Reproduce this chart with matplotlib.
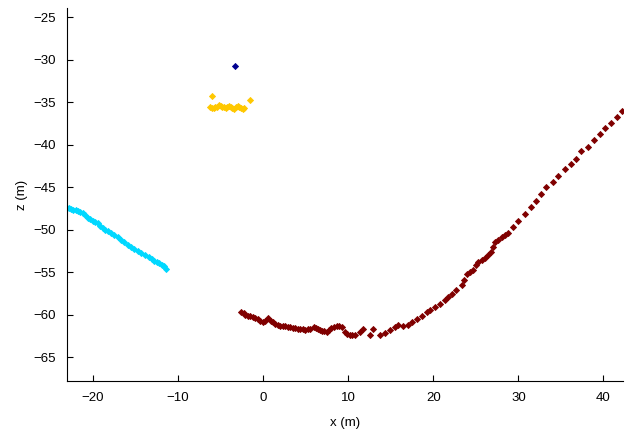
import matplotlib.pyplot as plt

plt.rcParams['font.family'] = ['Liberation Sans', 'DejaVu Sans']

# cyan group
cyan_x = [-23.05, -22.8, -22.57, -22.3, -22.05, -21.8, -21.5, -21.21, -20.9, -20.62,
          -20.35, -20.04, -19.75, -19.45, -19.15, -18.86, -18.55, -18.27, -17.9, -17.49,
          -17.1, -16.70, -16.3, -15.93, -15.55, -15.14, -14.75, -14.35, -13.85, -13.38,
          -13.1, -12.79, -12.5, -12.21, -11.9, -11.62, -11.42]
cyan_z = [-47.43, -47.45, -47.51, -47.62, -47.7, -47.82, -47.95, -48.02, -48.3, -48.61,
          -48.75, -48.93, -49.05, -49.20, -49.5, -49.79, -50.0, -50.18, -50.4, -50.58,
          -50.9, -51.17, -51.45, -51.76, -52.0, -52.23, -52.5, -52.75, -53.0, -53.25,
          -53.5, -53.73, -53.8, -53.93, -54.1, -54.32, -54.6]

# single dark blue point
navy_x = [-3.3]
navy_z = [-30.7]

# yellow group
yel_x = [-6.02, -6.2, -6.0, -5.8, -5.6, -5.4, -5.2, -5.0, -4.8, -4.6, -4.4, -4.2,
         -4.0, -3.8, -3.6, -3.4, -3.2, -3.0, -2.8, -2.6, -2.4, -2.2, -1.53]
yel_z = [-34.29, -35.6, -35.7, -35.65, -35.6, -35.5, -35.3, -35.45, -35.6, -35.55,
         -35.7, -35.6, -35.4, -35.5, -35.65, -35.75, -35.6, -35.45, -35.5, -35.7,
         -35.8, -35.65, -34.68]

# dark red group
red_x = [-2.55, -2.3, -2.08, -1.8, -1.49, -1.2, -0.90, -0.6, -0.32, 0.0,
         0.27, 0.59, 0.97, 1.2, 1.44, 1.75, 2.03, 2.35, 2.62, 2.9,
         3.20, 3.5, 3.79, 4.1, 4.38, 4.65, 4.96, 5.25, 5.55, 5.95,
         6.2, 6.46, 6.7, 6.92, 7.2, 7.51, 7.75, 8.02, 8.35, 8.65,
         8.95, 9.24, 9.62, 9.9, 10.21, 10.5, 10.80, 11.38, 11.77, 12.56,
         12.88, 13.73, 14.32, 14.91, 15.49, 15.88, 16.47, 17.05, 17.45, 18.04,
         18.63, 19.21, 19.6, 20.19, 20.8, 21.36, 21.75, 22.15, 22.7, 23.32,
         23.6, 23.91, 24.3, 24.68, 25.0, 25.27, 25.7, 26.06, 26.45, 26.84,
         27.0, 27.23, 27.6, 28.02, 28.4, 28.79, 29.38, 29.96, 30.75, 31.54,
         32.12, 32.7, 33.3, 34.07, 34.66, 35.45, 36.23, 36.74, 37.41, 38.18,
         38.89, 39.55, 40.14, 40.85, 41.63, 42.17]
red_z = [-59.63, -59.85, -60.03, -60.1, -60.18, -60.3, -60.42, -60.55, -60.69, -60.8,
         -60.69, -60.42, -60.69, -60.9, -61.09, -61.2, -61.28, -61.3, -61.36, -61.42,
         -61.48, -61.55, -61.60, -61.65, -61.68, -61.72, -61.75, -61.72, -61.68, -61.40,
         -61.55, -61.68, -61.78, -61.87, -61.95, -62.07, -61.85, -61.60, -61.4, -61.28,
         -61.35, -61.48, -62.07, -62.25, -62.34, -62.34, -62.34, -62.07, -61.68, -62.34,
         -61.68, -62.34, -62.15, -61.75, -61.48, -61.21, -61.28, -61.21, -60.89, -60.50,
         -60.18, -59.71, -59.45, -59.08, -58.7, -58.29, -57.95, -57.59, -57.1, -56.52,
         -55.9, -55.22, -55.0, -54.75, -54.2, -53.77, -53.55, -53.37, -53.0, -52.59,
         -52.0, -51.41, -51.15, -50.89, -50.65, -50.42, -49.64, -48.93, -48.14, -47.35,
         -46.57, -45.8, -44.99, -44.33, -43.65, -42.83, -42.24, -41.65, -40.70, -40.27,
         -39.49, -38.73, -38.02, -37.43, -36.72, -35.98]

fig = plt.figure(figsize=(6.38, 4.34), dpi=100)
ax = fig.add_axes([67/638, 53/434, 556/638, 373/434])

mk = dict(marker='D', linestyle='none', markersize=3.1, markeredgewidth=0.6)
ax.plot(cyan_x, cyan_z, color='#00d8ff', **mk)
ax.plot(navy_x, navy_z, color='#000090', **mk)
ax.plot(yel_x, yel_z, color='#ffc800', **mk)
ax.plot(red_x, red_z, color='#800000', **mk)

ax.set_xlim(-23.05, 42.3)
ax.set_ylim(-67.8, -23.9)
ax.set_xticks([-20, -10, 0, 10, 20, 30, 40])
ax.set_yticks([-65, -60, -55, -50, -45, -40, -35, -30, -25])

ax.spines['top'].set_visible(False)
ax.spines['right'].set_visible(False)
ax.tick_params(direction='in', length=4, labelsize=9.5, pad=8)
ax.set_xlabel('x (m)', fontsize=9.5, labelpad=9)
ax.set_ylabel('z (m)', fontsize=9.5)

plt.savefig('out.png', dpi=100)
